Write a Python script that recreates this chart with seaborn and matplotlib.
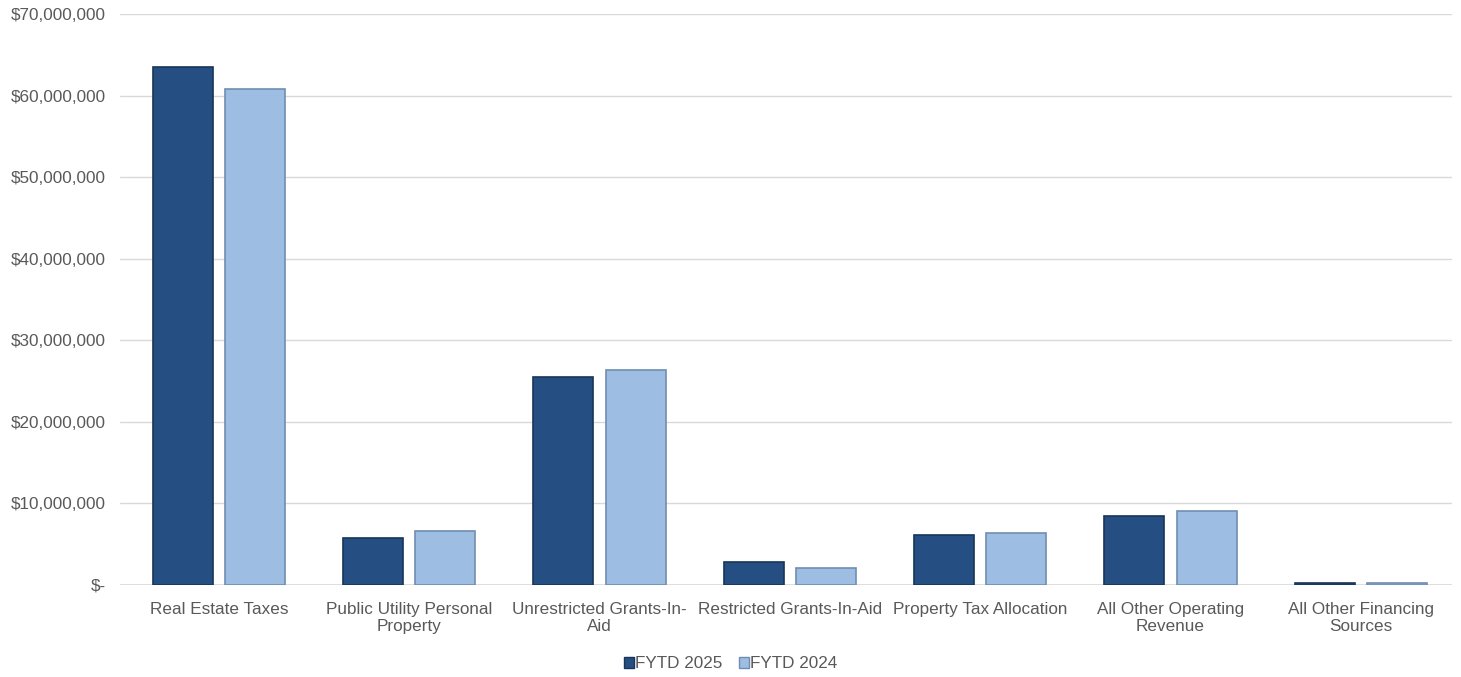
import matplotlib
matplotlib.use("Agg")
import matplotlib.pyplot as plt
import matplotlib.ticker as mticker
from matplotlib.patches import Patch
import pandas as pd
import seaborn as sns

# values (dollars)
categories = ["Real Estate Taxes", "Public Utility Personal\nProperty",
              "Unrestricted Grants-In-\nAid", "Restricted Grants-In-Aid",
              "Property Tax Allocation", "All Other Operating\nRevenue",
              "All Other Financing\nSources"]
fytd_2025 = [63_500_000, 5_750_000, 25_500_000, 2_850_000, 6_150_000, 8_450_000, 250_000]
fytd_2024 = [60_800_000, 6_600_000, 26_350_000, 2_100_000, 6_400_000, 9_100_000, 200_000]
series = ["FYTD 2025", "FYTD 2024"]
colors = ["#254F82", "#9DBDE3"]
edges = ["#173557", "#6F8DB0"]

df = pd.DataFrame({
    "category": categories * 2,
    "value": fytd_2025 + fytd_2024,
    "series": [series[0]] * len(categories) + [series[1]] * len(categories),
})

sns.set_theme(style="white")
plt.rcParams['font.family'] = ['Liberation Sans', 'DejaVu Sans']

fig, ax = plt.subplots(figsize=(14.61, 6.77), dpi=100)
fig.subplots_adjust(left=0.082, right=0.994, top=0.979, bottom=0.136)

sns.barplot(data=df, x="category", y="value", hue="series", palette=colors,
            saturation=1, width=0.76, gap=0.17, ax=ax, legend=False, zorder=3)

# darker outline on each bar, per series
n = len(categories)
for i, bar in enumerate(ax.patches[:2 * n]):
    bar.set_edgecolor(edges[i // n])
    bar.set_linewidth(1.2)

ax.set_ylim(0, 70_000_000)
ax.set_xlim(-0.52, n - 0.52)
ax.yaxis.set_major_locator(mticker.MultipleLocator(10_000_000))
ax.yaxis.set_major_formatter(mticker.FuncFormatter(
    lambda v, p: "$-" if v == 0 else f"${v:,.0f}"))
ax.grid(axis="y", color="#D9D9D9", linewidth=1, zorder=0)
ax.axhline(0, color="#D9D9D9", linewidth=1.2, zorder=1)
for s in ax.spines.values():
    s.set_visible(False)
ax.tick_params(axis="both", length=0, labelsize=12.3, labelcolor="#595959")
ax.tick_params(axis="x", pad=12)
ax.tick_params(axis="y", pad=10)
ax.set_xlabel("")
ax.set_ylabel("")

handles = [Patch(facecolor=c, edgecolor=e, label=s) for s, c, e in zip(series, colors, edges)]
fig.legend(handles=handles, loc="lower center", ncol=2, frameon=False,
           bbox_to_anchor=(0.5, -0.014), fontsize=12.3, handlelength=0.6,
           handleheight=0.6, handletextpad=0.05, columnspacing=1.0,
           labelcolor="#595959")

fig.savefig("out.png", dpi=100)
